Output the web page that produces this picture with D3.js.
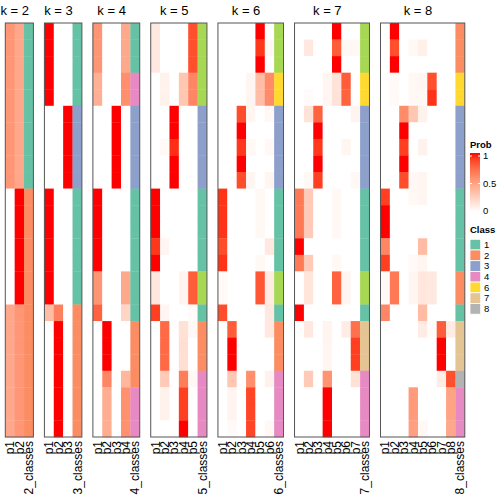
<!DOCTYPE html>
<html><head><meta charset="utf-8">
<script src="https://cdn.jsdelivr.net/npm/d3@7"></script>
<style>body{margin:0;background:#fff;} text{font-family:"Liberation Sans",Arial,Helvetica,sans-serif;fill:#000;}</style>
</head><body><svg id="c" width="504" height="504"></svg>
<script>
const kValues = [2,3,4,5,6,7,8];

const probK2 = [
[0.54,0.46],[0.54,0.46],[0.54,0.46],[0.54,0.46],[0.54,0.46],
[0.54,0.46],[0.54,0.46],[0.54,0.46],[0.54,0.46],[0.54,0.46],
[0,1],[0,1],[0,1],[0,1],[0,1],[0,1],[0,1],
[0.46,0.54],[0.46,0.54],[0.46,0.54],[0.46,0.54],[0.46,0.54],[0.46,0.54],[0.46,0.54],[0.46,0.54]];
const classK2 = [1,1,1,1,1,1,1,1,1,1,2,2,2,2,2,2,2,2,2,2,2,2,2,2,2];

const probK3 = [
[1,0,0],[1,0,0],[1,0,0],[1,0,0],[1,0,0],
[0,0,1],[0,0,1],[0,0,1],[0,0,1],[0,0,1],
[1,0,0],[1,0,0],[1,0,0],[1,0,0],[1,0,0],[1,0,0],[1,0,0],
[0.35,0.65,0],
[0,1,0],[0,1,0],[0,1,0],[0,1,0],[0,1,0],[0,1,0],[0,1,0]];
const classK3 = [1,1,1,1,1,3,3,3,3,3,1,1,1,1,1,1,1,2,2,2,2,2,2,2,2];

const probK4 = [
[0.55,0,0,0.45],[0.55,0,0,0.45],[0.55,0,0,0.45],
[0.42,0,0,0.58],[0.42,0,0,0.58],
[0,0,1,0],[0,0,1,0],[0,0,1,0],[0,0,1,0],[0,0,1,0],
[1,0,0,0],[1,0,0,0],[1,0,0,0],[1,0,0,0],[1,0,0,0],
[0.55,0,0,0.45],[0.55,0,0,0.45],
[0.78,0,0,0.22],
[0,1,0,0],[0,1,0,0],[0,1,0,0],
[0,0.62,0,0.38],
[0,0.43,0,0.57],[0,0.43,0,0.57],[0,0.43,0,0.57]];
const classK4 = [1,1,1,4,4,3,3,3,3,3,1,1,1,1,1,1,1,1,2,2,2,2,4,4,4];

const probK5 = [
[0.12,0,0,0,0.85],[0.12,0,0,0,0.85],[0.12,0,0,0,0.85],
[0,0.07,0,0.3,0.62],[0,0.07,0,0.3,0.62],
[0,0,1,0,0],[0,0,1,0,0],[0,0.03,0.94,0,0],[0,0,1,0,0],[0,0,1,0,0],
[1,0,0,0,0],[1,0,0,0,0],[1,0,0,0,0],[0.92,0.05,0,0,0],[1,0,0,0,0],
[0.13,0,0,0.06,0.8],[0.13,0,0,0.06,0.8],
[0.9,0.05,0,0,0.02],
[0,0.75,0,0.16,0.04],[0,0.75,0,0.17,0],[0,0.75,0,0.17,0],
[0,0.28,0,0.66,0.04],
[0,0.07,0,0.9,0],[0,0.07,0,0.9,0],[0,0,0,1,0]];
const classK5 = [5,5,5,5,5,3,3,3,3,3,1,1,1,1,1,5,5,1,2,2,2,4,4,4,4];

const probK6 = [
[0,0,0,0,1,0],[0,0,0,0,0.92,0.04],[0,0,0,0,1,0],
[0,0,0,0.05,0.35,0.6],[0,0,0,0.05,0.35,0.6],
[0,0,0.86,0.05,0,0.04],[0,0,1,0,0,0],[0,0,0.92,0.04,0,0.04],[0,0,1,0,0,0],[0,0,0.86,0.05,0,0.05],
[0.93,0,0,0,0.04,0],[0.93,0,0,0,0.04,0],[0.93,0,0,0,0.04,0],[0.86,0,0,0,0,0.12],[0.93,0,0,0,0.04,0],
[0.03,0,0,0,0.82,0.1],[0.03,0,0,0,0.82,0.1],
[0.86,0,0,0,0,0.12],
[0,0.8,0,0,0,0.12],[0,1,0,0,0,0],[0,1,0,0,0,0],
[0,0.3,0,0.58,0,0.07],
[0,0.06,0,0.88,0,0],[0,0.06,0,0.88,0,0],[0,0.03,0,0.88,0,0.04]];
const classK6 = [5,5,5,6,6,3,3,3,3,3,1,1,1,1,1,5,5,1,2,2,2,4,4,4,4];

const probK7 = [
[0,0,0,0,1,0,0],[0,0.12,0,0,0.8,0.04,0.04],[0,0,0,0,1,0,0],
[0,0,0,0.05,0.15,0.8,0],[0,0.02,0,0.05,0.15,0.78,0],
[0,0.15,0.78,0,0,0,0.06],[0,0,1,0,0,0,0],[0,0,0.92,0,0,0.05,0],[0,0,1,0,0,0,0],[0,0.04,0.9,0,0,0,0.04],
[0.68,0.28,0,0,0.04,0,0],[0.68,0.28,0,0,0.04,0,0],[0.68,0.28,0,0,0.04,0,0],[1,0,0,0,0,0,0],[0.68,0.28,0,0,0.04,0,0],
[0,0.14,0,0,0.78,0.05,0],[0,0.14,0,0,0.78,0.05,0],
[1,0,0,0,0,0,0],
[0,0.12,0,0.06,0,0.1,0.72],[0,0,0,0.05,0,0,0.9],[0,0,0,0.05,0,0,0.9],
[0,0.28,0,0.56,0,0,0.16],
[0,0,0,1,0,0,0],[0,0,0,1,0,0,0],[0,0,0,1,0,0,0]];
const classK7 = [5,5,5,6,6,3,3,3,3,3,1,1,1,1,1,5,5,1,7,7,7,4,4,4,4];

const probK8 = [
[0,1,0,0,0,0,0,0],[0,0.85,0,0.04,0.08,0,0,0],[0,1,0,0,0,0,0,0],
[0,0.03,0,0.04,0.05,0.85,0,0],[0,0.03,0,0.04,0.04,0.93,0,0],
[0,0,0.6,0.3,0.07,0,0,0],[0,0,1,0,0,0,0,0],[0,0,0.9,0,0.07,0,0,0],[0,0,1,0,0,0,0,0],[0,0,0.86,0.04,0.05,0,0,0],
[0.9,0,0,0.04,0.05,0,0,0],[1,0,0,0,0,0,0,0],[1,0,0,0,0,0,0,0],[0.62,0,0,0,0.36,0,0,0],[0.9,0,0,0.03,0.05,0,0,0],
[0.03,0.68,0,0.05,0.13,0.12,0,0],[0.03,0.68,0,0.05,0.13,0.12,0,0],
[0.62,0,0,0,0.36,0,0,0],
[0,0,0,0,0.1,0.02,0.8,0.1],[0,0,0,0,0,0,1,0],[0,0,0,0,0,0,1,0],
[0,0,0,0,0,0,0.1,0.85],
[0,0,0,0.52,0,0,0,0.48],[0,0,0,0.52,0,0,0,0.48],[0,0,0,0.5,0.04,0,0,0.46]];
const classK8 = [2,2,2,6,6,3,3,3,3,3,1,1,1,1,1,2,2,1,7,7,7,8,4,4,4];

const legendClasses = [1,2,3,4,6,7,8];
const probTicks = [0,0.5,1];
const classPalette = ["#66C2A5","#FC8D62","#8DA0CB","#E78AC3","#A6D854","#FFD92F","#E5C494","#B3B3B3"];

const probs = [probK2,probK3,probK4,probK5,probK6,probK7,probK8];
const classes = [classK2,classK3,classK4,classK5,classK6,classK7,classK8];

const svg = d3.select("#c");
const nRows = probK2.length;
const y = d3.scaleBand().domain(d3.range(nRows)).range([23,437]);
const color = d3.scaleLinear().domain([0,1]).range(["#FFFFFF","#FF0000"]).interpolate(d3.interpolateLab);
const classColor = d3.scaleOrdinal().domain([1,2,3,4,5,6,7,8]).range(classPalette);

const colW = 9.369, gap = 11;
let left = 5.3;
kValues.forEach((k,i)=>{
  const pcols = d3.range(k).map(j=>"p"+(j+1));
  const cols = pcols.concat([k+"_classes"]);
  const x = d3.scaleBand().domain(cols).range([left, left + cols.length*colW]);
  const g = svg.append("g");
  probs[i].forEach((row,r)=>{
    row.forEach((v,j)=>{
      g.append("rect").attr("x",x(pcols[j])).attr("y",y(r))
        .attr("width",x.bandwidth()+0.3).attr("height",y.bandwidth()+0.3)
        .attr("fill",color(v));
    });
  });
  classes[i].forEach((c,r)=>{
    g.append("rect").attr("x",x(cols[k])).attr("y",y(r))
      .attr("width",x.bandwidth()).attr("height",y.bandwidth()+0.3)
      .attr("fill",classColor(c));
  });
  g.append("rect").attr("x",left).attr("y",23).attr("width",cols.length*colW).attr("height",414)
    .attr("fill","none").attr("stroke","#555").attr("stroke-width",1);
  g.append("text").attr("x",(x(pcols[0]) + x(pcols[k-1]) + x.bandwidth())/2).attr("y",15)
    .attr("text-anchor","middle").attr("font-size",13).text("k = "+k);
  cols.forEach(c=>{
    g.append("text").attr("transform",`translate(${x(c)+x.bandwidth()/2},441) rotate(-90)`)
      .attr("text-anchor","end").attr("dy","0.36em").attr("font-size",12).text(c);
  });
  left += cols.length*colW + gap;
});

// Prob legend
const lg = svg.append("g");
const ly = d3.scaleLinear().domain([0,1]).range([211,156]);
const defs = svg.append("defs");
const grad = defs.append("linearGradient").attr("id","pg").attr("x1",0).attr("x2",0).attr("y1",1).attr("y2",0);
d3.range(0,1.0001,0.1).forEach(t=>grad.append("stop").attr("offset",t).attr("stop-color",color(t)));
lg.append("text").attr("x",470).attr("y",148).attr("font-size",9.5).attr("font-weight","bold").text("Prob");
lg.append("rect").attr("x",470).attr("y",153).attr("width",10).attr("height",59).attr("fill","url(#pg)");
probTicks.forEach(t=>{
  lg.append("line").attr("x1",470).attr("x2",472).attr("y1",ly(t)).attr("y2",ly(t)).attr("stroke","#fff");
  lg.append("line").attr("x1",478).attr("x2",480).attr("y1",ly(t)).attr("y2",ly(t)).attr("stroke","#fff");
  lg.append("text").attr("x",483).attr("y",ly(t)).attr("dy","0.35em").attr("font-size",9.5).text(t);
});
// Class legend
lg.append("text").attr("x",470).attr("y",233).attr("font-size",9.5).attr("font-weight","bold").text("Class");
legendClasses.forEach((c,i)=>{
  lg.append("rect").attr("x",470).attr("y",239.3+i*10.7).attr("width",10.7).attr("height",10.7)
    .attr("fill",classColor(c)).attr("stroke","#fff").attr("stroke-width",0.8);
  lg.append("text").attr("x",484).attr("y",239.3+i*10.7+5.35).attr("dy","0.35em").attr("font-size",9.5).text(c);
});
</script></body></html>
